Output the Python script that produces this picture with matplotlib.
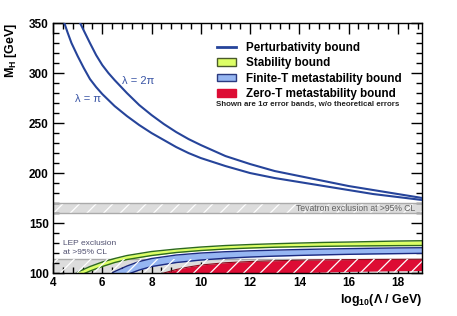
import matplotlib
matplotlib.use('Agg')
import matplotlib.pyplot as plt
from matplotlib.ticker import MultipleLocator
from matplotlib.lines import Line2D
from matplotlib.patches import Patch

plt.rcParams['font.family'] = ['Liberation Sans', 'DejaVu Sans']
plt.rcParams['mathtext.fontset'] = 'custom'
plt.rcParams['mathtext.rm'] = 'Liberation Sans:bold'
plt.rcParams['hatch.linewidth'] = 0.9

# perturbativity bounds (log10 Lambda, M_H)
pert_pi_x = [4.40, 4.46, 4.6, 4.75, 5.0, 5.25, 5.5, 5.75, 6.0, 6.5, 7.0, 7.5, 8.0, 8.5, 9.0, 9.5, 10.0, 11.0, 12.0, 13.0, 14.0, 15.0, 16.0, 17.0, 18.0, 19.0]
pert_pi_m = [354, 350, 340, 330, 317, 305, 294, 286, 279, 267, 257, 248, 240, 233, 226, 220, 215, 207, 200, 195, 191, 187, 183, 179, 176, 173]
pert_2pi_x = [5.02, 5.1, 5.3, 5.5, 5.75, 6.0, 6.25, 6.5, 7.0, 7.5, 8.0, 8.5, 9.0, 9.5, 10.0, 11.0, 12.0, 13.0, 14.0, 15.0, 16.0, 17.0, 18.0, 19.0]
pert_2pi_m = [355, 350, 340, 330, 318, 308, 300, 293, 280, 268, 258, 249, 241, 234, 228, 217, 209, 202, 197, 192, 187, 183, 179, 175]

# stability band
stab_x = [4.8, 5.0, 5.5, 6.0, 6.5, 7.0, 8.0, 9.0, 10.0, 11.0, 12.0, 13.0, 14.0, 15.0, 16.0, 17.0, 18.0, 19.0]
stab_hi = [97, 101, 106.5, 111, 114.5, 117.5, 121.5, 124, 126, 127.5, 128.5, 129.3, 130, 130.6, 131, 131.5, 132, 132.3]
stab_lo = [93, 96.5, 102, 106.5, 110.5, 113.5, 117.5, 120.5, 122.5, 124, 125, 125.8, 126.3, 126.7, 127, 127.2, 127.4, 127.5]

# finite-T metastability band
fint_x = [6.2, 6.5, 7.0, 7.5, 8.0, 9.0, 10.0, 11.0, 12.0, 13.0, 14.0, 15.0, 16.0, 17.0, 18.0, 19.0]
fint_hi = [97.5, 101.5, 107, 111.5, 114.5, 118, 120, 121.3, 122.2, 122.9, 123.5, 124, 124.4, 124.8, 125.1, 125.3]
fint_lo = [90, 93, 98.5, 103, 106.5, 110.5, 113, 114.8, 116, 116.9, 117.6, 118.2, 118.7, 119.1, 119.4, 119.7]

# zero-T metastability band
zero_x = [8.3, 8.5, 9.0, 9.5, 10.0, 11.0, 12.0, 13.0, 14.0, 15.0, 16.0, 17.0, 18.0, 19.0]
zero_hi = [98.5, 100, 103.5, 106, 108, 110.3, 111.5, 112.3, 112.8, 113.2, 113.4, 113.6, 113.7, 113.8]
zero_lo = [83, 85, 88, 91, 93, 96, 98, 99.3, 100.3, 101, 101.6, 102, 102.3, 102.5]

lep_limit = 114.4
tev_lo, tev_hi = 160, 170

fig = plt.figure(figsize=(4.57, 3.16), dpi=100)
ax = fig.add_axes([0.116, 0.136, 0.8085, 0.791])
ax.set_xlim(4, 19)
ax.set_ylim(100, 350)

# exclusion regions
ax.axhspan(tev_lo, tev_hi, facecolor='#dcdcdc', edgecolor='none', zorder=1)
ax.axhspan(tev_lo, tev_hi, facecolor='none', edgecolor='white', hatch='//', lw=0, zorder=1.5)
ax.axhline(tev_lo, color='#aaaaaa', lw=1, zorder=1.6)
ax.axhline(tev_hi, color='#aaaaaa', lw=1, zorder=1.6)
ax.axhspan(90, lep_limit, facecolor='#dcdcdc', edgecolor='none', zorder=1)
ax.axhline(lep_limit, color='#aaaaaa', lw=1, zorder=1.6)

# bands
ax.fill_between(stab_x, stab_lo, stab_hi, color='#ddff66', lw=0, zorder=2)
ax.plot(stab_x, stab_hi, color='#2d6a1e', lw=1, zorder=2.1)
ax.plot(stab_x, stab_lo, color='#2d6a1e', lw=1, zorder=2.1)
ax.fill_between(fint_x, fint_lo, fint_hi, color='#96b6f2', lw=0, zorder=2)
ax.plot(fint_x, fint_hi, color='#1b2a80', lw=1, zorder=2.1)
ax.plot(fint_x, fint_lo, color='#1b2a80', lw=1, zorder=2.1)
ax.fill_between(zero_x, zero_lo, zero_hi, color='#dd0c34', lw=0, zorder=2)
ax.plot(zero_x, zero_hi, color='#8a0a1a', lw=0.8, zorder=2.1)

# LEP hatch over everything below the limit
ax.axhspan(90, lep_limit, facecolor='none', edgecolor='white', hatch='//', lw=0, zorder=2.5)

# perturbativity
ax.plot(pert_pi_x, pert_pi_m, color='#26449a', lw=1.5, zorder=3)
ax.plot(pert_2pi_x, pert_2pi_m, color='#26449a', lw=1.5, zorder=3)

ax.text(4.9, 274, 'λ = π', color='#3a55a5', fontsize=8, va='center', ha='left')
ax.text(6.8, 292, 'λ = 2π', color='#3a55a5', fontsize=8, va='center', ha='left')
ax.text(18.69, 165, 'Tevatron exclusion at >95% CL', color='#606060', fontsize=6.2,
        ha='right', va='center', zorder=4)
ax.text(4.41, 125, 'LEP exclusion\nat >95% CL', color='#505070', fontsize=6,
        ha='left', va='center', linespacing=1.35, zorder=4)

handles = [Line2D([], [], color='#26449a', lw=2),
           Patch(facecolor='#ddff66', edgecolor='#4a5a2a', lw=1),
           Patch(facecolor='#96b6f2', edgecolor='#2a3a80', lw=1),
           Patch(facecolor='#dd0c34', edgecolor='#dd0c34', lw=1)]
labels = ['Perturbativity bound', 'Stability bound', 'Finite-T metastability bound',
          'Zero-T metastability bound']
leg = ax.legend(handles, labels, loc='upper left', bbox_to_anchor=(0.444, 0.926),
                frameon=False, borderpad=0, borderaxespad=0, handlelength=1.65,
                handleheight=0.65, handletextpad=0.86, labelspacing=0.3,
                prop={'weight': 'bold', 'size': 8.4})
ax.text(0.441, 0.676, 'Shown are 1σ error bands, w/o theoretical errors',
        transform=ax.transAxes, fontsize=5.7, fontweight='bold', color='#222222',
        ha='left', va='center')

# axes style
ax.xaxis.set_major_locator(MultipleLocator(2))
ax.xaxis.set_minor_locator(MultipleLocator(0.4))
ax.yaxis.set_major_locator(MultipleLocator(50))
ax.yaxis.set_minor_locator(MultipleLocator(10))
ax.tick_params(which='both', direction='in', top=True, right=True, width=1)
ax.tick_params(which='major', length=8, labelsize=8.5, pad=3)
ax.tick_params(which='minor', length=4)
for lab in ax.get_xticklabels() + ax.get_yticklabels():
    lab.set_fontweight('bold')
for sp in ax.spines.values():
    sp.set_linewidth(1)

ax.set_ylabel(r'M$_\mathregular{H}$ [GeV]', loc='top', fontsize=9, fontweight='bold', labelpad=7)
ax.set_xlabel(r'log$_\mathregular{10}$(Λ / GeV)', loc='right', fontsize=9, fontweight='bold', labelpad=2)

plt.savefig('out.png', dpi=100)
